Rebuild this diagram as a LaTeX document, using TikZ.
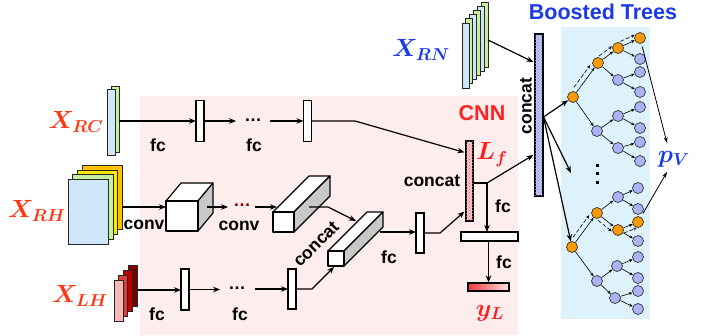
\documentclass[tikz,border=0pt]{standalone}
\usepackage{fontspec}
\setmainfont{Liberation Sans}
\usepackage{bm}
\usetikzlibrary{arrows.meta,calc,patterns}
\definecolor{cnnbg}{HTML}{FDEDED}
\definecolor{treebg}{HTML}{DDF2FA}
\definecolor{xred}{HTML}{FF3814}
\definecolor{lred}{HTML}{FF1E1E}
\definecolor{cnnred}{HTML}{FF2222}
\definecolor{xblue}{HTML}{1A3AE6}
\definecolor{slabblue}{HTML}{CFE6FA}
\definecolor{slabgreen}{HTML}{C6F0A0}
\definecolor{slabyellow}{HTML}{FFE800}
\definecolor{slabgold}{HTML}{FFC000}
\definecolor{lhA}{HTML}{F7B8B8}
\definecolor{lhB}{HTML}{E03A3A}
\definecolor{lhC}{HTML}{B80000}
\definecolor{lhD}{HTML}{7A0000}
\definecolor{lfpink}{HTML}{F8C8C8}
\definecolor{lfdot}{HTML}{E07070}
\definecolor{catblue}{HTML}{C0C6F4}
\definecolor{catdot}{HTML}{8088D8}
\definecolor{nodeorange}{HTML}{FF9900}
\definecolor{nodeblue}{HTML}{ABB2F7}
\definecolor{sidegray}{HTML}{C8C8C8}
\definecolor{dotred}{HTML}{800000}
\definecolor{ylred}{HTML}{F03838}
\definecolor{ylpale}{HTML}{FFE4E4}
\begin{document}
\begin{tikzpicture}[x=1pt,y=-1pt,
  arr/.style={-{Stealth[length=7pt,width=5.5pt]},line width=1.2pt},
  ln/.style={line width=1.2pt},
  fcbox/.style={draw,fill=white,line width=1.2pt,inner sep=0pt,outer sep=0pt},
  slab/.style={draw=black!85,line width=1pt},
  lbl/.style={font=\fontsize{17.5}{17.5}\selectfont\bfseries,inner sep=0pt},
  ttl/.style={font=\fontsize{21.5}{21.5}\selectfont\bfseries,inner sep=0pt},
  mlbl/.style={font=\fontsize{24}{24}\selectfont,inner sep=0pt},
  face/.style={draw,line width=1.2pt,line join=round},
  tn/.style={circle,draw=black!80,line width=0.7pt,minimum size=11pt,inner sep=0pt},
  tno/.style={tn,fill=nodeorange},
  tnb/.style={tn,fill=nodeblue},
  te/.style={line width=0.6pt,-{Stealth[length=3.5pt,width=3pt]}},
  pe/.style={line width=0.6pt,dash pattern=on 4pt off 2pt,-{Stealth[length=3.5pt,width=3pt]}},
  pa/.style={line width=0.8pt,-{Stealth[length=6pt,width=4pt]}}
]
\useasboundingbox (0,0) rectangle (709,335);
% backgrounds
\fill[cnnbg] (140,96) rectangle (518,335);
\fill[treebg] (561,27) rectangle (650,319);

% ---------- inputs ----------
% X_RC
\filldraw[slab,fill=slabgreen] (111,86) rectangle (119,152);
\filldraw[slab,fill=slabblue] (107,89) rectangle (115,155);
\node[mlbl,text=xred] (xrc) at (76,122) {$\bm{X}_{\bm{RC}}$};
% X_RH
\filldraw[slab,fill=slabgold] (82,165) rectangle (122,229);
\filldraw[slab,fill=slabyellow] (77,170) rectangle (117,234);
\filldraw[slab,fill=slabgreen] (72,174) rectangle (113,239);
\filldraw[slab,fill=slabblue] (68,179) rectangle (108,244);
\node[mlbl,text=xred] (xrh) at (37,211) {$\bm{X}_{\bm{RH}}$};
% X_LH
\filldraw[slab,fill=lhD] (128.1,265.9) rectangle (137.1,306.9);
\filldraw[slab,fill=lhC] (123.4,270.6) rectangle (132.4,311.6);
\filldraw[slab,fill=lhB] (118.7,275.3) rectangle (127.7,316.3);
\filldraw[slab,fill=lhA] (114,280) rectangle (123,321);
\node[mlbl,text=xred] (xlh) at (80,296) {$\bm{X}_{\bm{LH}}$};
% X_RN
\foreach \i/\c in {5/slabgreen,4/slabblue,3/slabgreen,2/slabblue,1/slabgreen,0/slabblue}{
  \filldraw[slab,fill=\c] ({462+3.8*\i},{23-4.2*\i}) rectangle ({469+3.8*\i},{88-4.2*\i});
}
\node[mlbl,text=xblue] (xrn) at (421,50) {$\bm{X}_{\bm{RN}}$};

% ---------- row 1 ----------
\coordinate (rcout) at (119,121);
\node[fcbox,minimum width=8pt,minimum height=41pt] (f1a) at (200,121) {};
\node[lbl] (dots1) at (253,120) {…};
\node[fcbox,minimum width=8pt,minimum height=41pt] (f1b) at (307.5,121) {};
\draw[arr] (rcout) -- (rcout -| f1a.west);
\draw[arr] (f1a.east) -- ([xshift=-8pt]dots1.west |- f1a.east);
\draw[arr] ([xshift=8pt]dots1.east |- f1b.west) -- (f1b.west);
\node[lbl] (lfc1) at (158,145) {fc};
\node[lbl] (lfc2) at (254,145) {fc};

% ---------- row 2 ----------
% cube 1
\filldraw[face,fill=white] (166,201) -- (181,183) -- (213,183) -- (198,201) -- cycle;
\filldraw[face,fill=sidegray] (198,201) -- (213,183) -- (213,213) -- (198,231) -- cycle;
\filldraw[face,fill=white] (166,201) rectangle (198,231);
% cube 2
\filldraw[face,fill=white] (273,212) -- (309,176) -- (330,176) -- (294,212) -- cycle;
\filldraw[face,fill=sidegray] (294,212) -- (330,176) -- (330,196) -- (294,232) -- cycle;
\filldraw[face,fill=white] (273,212) rectangle (294,232);
% cube 3
\filldraw[face,fill=white] (328,251) -- (367,212) -- (383,212) -- (344,251) -- cycle;
\filldraw[face,fill=sidegray] (344,251) -- (383,212) -- (383,227) -- (344,266) -- cycle;
\filldraw[face,fill=white] (328,251) rectangle (344,266);
\coordinate (rhout) at (122,207);
\coordinate (c1w) at (166,207);
\coordinate (c1out) at (207,207);
\node[lbl,text=dotred] (dots2) at (242,205) {…};
\coordinate (c2w) at (277,207);
\coordinate (c2out) at (309,207);
\coordinate (c2bend) at (328,207);
\coordinate (c3top) at (356,221);
\coordinate (c3bot) at (334,267);
\coordinate (c3out) at (380,232);
\draw[arr] (rhout) -- (c1w);
\draw[arr] (c1out) -- ([xshift=-5pt]dots2.west |- c1out);
\draw[arr] ([xshift=4pt]dots2.east |- c2w) -- (c2w);
\draw[arr] (c2out) -- (c2bend) -- (c3top);
\node[lbl] (lconv1) at (144,225) {conv};
\node[lbl] (lconv2) at (239,226) {conv};
\node[lbl,rotate=45] (lcat1) at (316,244) {concat};

% ---------- row 3 ----------
\coordinate (lhout) at (137,290);
\node[fcbox,minimum width=8pt,minimum height=41pt] (f3a) at (185,289.5) {};
\node[lbl] (dots3) at (237,288) {…};
\node[fcbox,minimum width=8pt,minimum height=40pt] (f3b) at (292,289) {};
\draw[arr] (lhout) -- (lhout -| f3a.west);
\draw[arr] (f3a.east) -- ([xshift=-8pt]dots3.west |- f3a.east);
\draw[arr] ([xshift=9pt]dots3.east |- f3b.west) -- (f3b.west);
\coordinate (f3bend) at (312,289);
\draw[arr] (f3b.east) -- (f3bend) -- (c3bot);
\node[lbl] (lfc3) at (157,314) {fc};
\node[lbl] (lfc4) at (240,314) {fc};

% ---------- merge ----------
\node[fcbox,minimum width=8pt,minimum height=40pt] (f4) at (420,233) {};
\draw[arr] (c3out) -- (c3out -| f4.west);
\node[lbl] (lfc5) at (389,257) {fc};
\node[draw,fill=lfpink,postaction={pattern=crosshatch dots,pattern color=lfdot},line width=1.2pt,minimum width=7pt,minimum height=80pt,inner sep=0pt] (lf) at (469.5,181) {};
\coordinate (f4bend) at (440,233);
\draw[arr] (f4.east) -- (f4bend) -- ($(lf.south west)+(-1,-10)$);
\coordinate (f1bend) at (355,121);
\draw[arr] (f1b.east) -- (f1bend) -- ($(lf.north west)+(-1,12)$);
\node[lbl] (lcat2) at (432,181) {concat};
\node[ttl,text=cnnred] (cnn) at (482,113) {CNN};
\node[mlbl,text=lred] (lflbl) at (492,155) {$\bm{L}_{\bm{f}}$};

\node[draw,fill=catblue,postaction={pattern=crosshatch dots,pattern color=catdot},line width=1.2pt,minimum width=8pt,minimum height=162pt,inner sep=0pt] (cat) at (539,115) {};
\node[lbl,rotate=90] (lcat3) at (526,106) {concat};
\coordinate (jn) at (487,183);
\draw[ln] ($(lf.east)+(0,2)$) -- (jn);
\draw[arr] (jn) -- ($(cat.west)+(-1,40)$);
\node[fcbox,minimum width=57pt,minimum height=9pt] (fcbar) at (489.5,236.5) {};
\draw[arr] (jn) -- (jn |- fcbar.north);
\node[lbl] (lfc6) at (503,206) {fc};
\node[draw,line width=1.2pt,left color=ylred,right color=ylpale,minimum width=41pt,minimum height=8pt,inner sep=0pt] (yl) at (488.5,287) {};
\draw[arr] (fcbar.south -| yl.north) -- (yl.north);
\node[lbl] (lfc7) at (504,262) {fc};
\node[mlbl,text=lred] (yllbl) at (490,313) {$\bm{y}_{\bm{L}}$};

\coordinate (rnout) at (488,40);
\draw[arr] (rnout) -- ($(cat.west)+(-1,-53)$);

% ---------- boosted trees ----------
\node[ttl,text=xblue] (bt) at (603,12) {Boosted Trees};
% tree 1
\node[tno] (t1r) at (573,97) {};
\node[tno] (t1a) at (598,63) {};
\node[tnb] (t1b) at (597,131) {};
\node[tno] (t1aa) at (618,48) {};
\node[tnb] (t1ab) at (618,80) {};
\node[tno] (t1aaa) at (640,38) {};
\node[tnb] (t1aab) at (640,59) {};
\node[tnb] (t1aba) at (640,72) {};
\node[tnb] (t1abb) at (640,92) {};
\node[tnb] (t1ba) at (618,116) {};
\node[tnb] (t1bb) at (618,148) {};
\node[tnb] (t1baa) at (640,107) {};
\node[tnb] (t1bab) at (640,128) {};
\node[tnb] (t1bba) at (640,142) {};
\node[tnb] (t1bbb) at (640,161) {};
\foreach \p/\c in {t1r/t1a,t1r/t1b,t1a/t1aa,t1a/t1ab,t1aa/t1aaa,t1aa/t1aab,t1ab/t1aba,t1ab/t1abb,t1b/t1ba,t1b/t1bb,t1ba/t1baa,t1ba/t1bab,t1bb/t1bba,t1bb/t1bbb}
  \draw[te] (\p) -- (\c);
% tree 2
\node[tno] (t2r) at (572,247) {};
\node[tno] (t2a) at (597,213) {};
\node[tnb] (t2b) at (597,281) {};
\node[tnb] (t2aa) at (618,197) {};
\node[tno] (t2ab) at (618,230) {};
\node[tnb] (t2aaa) at (638,188) {};
\node[tnb] (t2aab) at (638,209) {};
\node[tno] (t2aba) at (638,222) {};
\node[tnb] (t2abb) at (638,241) {};
\node[tnb] (t2ba) at (617,266) {};
\node[tnb] (t2bb) at (615,298) {};
\node[tnb] (t2baa) at (638,257) {};
\node[tnb] (t2bab) at (638,278) {};
\node[tnb] (t2bba) at (638,291) {};
\node[tnb] (t2bbb) at (638,309) {};
\foreach \p/\c in {t2r/t2a,t2r/t2b,t2a/t2aa,t2a/t2ab,t2aa/t2aaa,t2aa/t2aab,t2ab/t2aba,t2ab/t2abb,t2b/t2ba,t2b/t2bb,t2ba/t2baa,t2ba/t2bab,t2bb/t2bba,t2bb/t2bbb}
  \draw[te] (\p) -- (\c);
% decision path arrows
\foreach \a/\b/\s in {t1r/t1a/90,t1a/t1aa/90,t1aa/t1aaa/90,t2r/t2a/90,t2a/t2ab/-90,t2ab/t2aba/-90}
  \draw[pe] ($(\a)!0.2!(\b)!5pt!\s:(\b)$) -- ($(\a)!0.85!(\b)!5pt!\s:(\b)$);
% vertical dots
\foreach \yy in {165,173,182}
  \fill (595.5,\yy-1.5) rectangle (598.5,\yy+1.5);
% concat -> trees
\coordinate (cj) at (543.5,117);
\coordinate (tdots) at (571,173);
\draw[arr] (cj) -- (t1r);
\draw[arr] (cj) -- (tdots);
\draw[arr] (cj) -- (t2r);
% output
\node[mlbl,text=xblue] (pv) at (674,159) {$\bm{p}_{\bm{V}}$};
\coordinate (pvt) at (667,143);
\coordinate (pvb) at (667,172);
\draw[pa,shorten <=3pt] (t1aaa) -- (pvt);
\draw[pa,shorten <=4pt] (t2aba) -- (pvb);
\end{tikzpicture}
\end{document}
